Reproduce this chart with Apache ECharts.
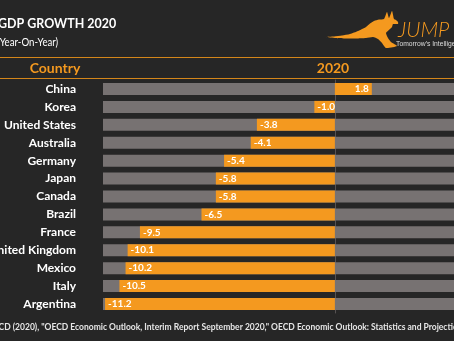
<!DOCTYPE html>
<html>
<head>
<meta charset="utf-8">
<script src="https://cdn.jsdelivr.net/npm/echarts@6/dist/echarts.min.js"></script>
<style>
  html, body { margin: 0; padding: 0; background: #262626; }
  #chart { width: 454px; height: 341px; }
</style>
</head>
<body>
<div id="chart"></div>
<script>
// GDP growth 2020, year-on-year (%)
const countries = ['China', 'Korea', 'United States', 'Australia', 'Germany', 'Japan', 'Canada',
  'Brazil', 'France', 'United Kingdom', 'Mexico', 'Italy', 'Argentina'];
const growth2020 = [1.8, -1.0, -3.8, -4.1, -5.4, -5.8, -5.8, -6.5, -9.5, -10.1, -10.2, -10.5, -11.2];

const ORANGE = '#f4991f';
const TRACK = '#777272';
const FONT = 'Lato, "Open Sans", sans-serif';

const chart = echarts.init(document.getElementById('chart'), null, { renderer: 'canvas' });

// Kangaroo silhouette for the logo (local coordinates)
const kangaroo = [[0, 27], [8, 26.5], [16, 25.5], [24, 24], [32, 21], [40, 17], [44, 13.5], [48, 11],
  [53, 9.5], [58, 9], [61, 2], [63, 8], [66, 1], [68, 9], [70, 10], [72, 12], [72, 14], [67, 14],
  [66, 17], [63, 20], [60, 23], [62, 28], [65, 32], [71, 36], [60, 38], [56, 33], [52, 29], [47, 27],
  [40, 28], [30, 28.5], [20, 28.5], [10, 28]];

chart.setOption({
  backgroundColor: '#262626',
  animation: false,
  grid: { left: 103, right: -4, top: 80, bottom: 28, containLabel: false, outerBoundsMode: 'none' },
  xAxis: {
    type: 'value', min: -11.3, max: 6,
    show: false
  },
  yAxis: {
    type: 'category', data: countries, inverse: true,
    axisLine: { show: true, onZero: true, lineStyle: { color: '#575353', width: 1 } },
    axisTick: { show: false },
    axisLabel: { color: '#ffffff', fontFamily: FONT, fontWeight: 'bold', fontSize: 12, margin: 27 }
  },
  series: [{
    type: 'bar',
    barWidth: 12,
    showBackground: true,
    backgroundStyle: { color: TRACK },
    itemStyle: { color: ORANGE },
    data: growth2020.map(v => ({
      value: v,
      label: { position: v >= 0 ? 'insideRight' : 'insideLeft' }
    })),
    label: {
      show: true, color: '#ffffff', fontFamily: FONT, fontWeight: 'bold', fontSize: 10,
      distance: 3,
      formatter: p => p.value.toFixed(1)
    },
    z: 3
  }],
  graphic: [
    { type: 'text', x: -2, y: 23, scaleX: 0.89, style: { text: 'GDP GROWTH 2020', fill: '#ffffff', font: 'bold 14px ' + FONT, verticalAlign: 'middle' } },
    { type: 'text', x: -3, y: 43, scaleX: 0.92, style: { text: '(Year-On-Year)', fill: '#ffffff', font: '10.5px ' + FONT, verticalAlign: 'middle' } },
    { type: 'rect', shape: { x: 0, y: 57, width: 454, height: 1 }, style: { fill: '#d4861a' } },
    { type: 'rect', shape: { x: 0, y: 78, width: 454, height: 1 }, style: { fill: '#d4861a' } },
    { type: 'text', x: 55, y: 68, style: { text: 'Country', fill: ORANGE, font: 'bold 14px ' + FONT, align: 'center', verticalAlign: 'middle' } },
    { type: 'text', x: 333, y: 68, style: { text: '2020', fill: ORANGE, font: 'bold 14px ' + FONT, align: 'center', verticalAlign: 'middle' } },
    { type: 'polygon', x: 326, y: 10, shape: { points: kangaroo, smooth: 0.2 }, style: { fill: ORANGE } },
    { type: 'text', x: 398, y: 30, style: { text: 'JUMP', fill: ORANGE, font: 'italic 300 21px ' + FONT, verticalAlign: 'middle' } },
    { type: 'text', x: 396, y: 44, scaleX: 0.9, style: { text: "Tomorrow's Intelligence", fill: '#dddddd', font: '7.5px "Liberation Sans", Arial, sans-serif', verticalAlign: 'middle' } },
    { type: 'text', x: -13, y: 327, style: { text: 'OECD (2020), "OECD Economic Outlook, Interim Report September 2020," OECD Economic Outlook: Statistics and Projections', fill: '#e6e6e6', font: 'bold 8.5px ' + FONT, verticalAlign: 'middle' } }
  ]
});
</script>
</body>
</html>
